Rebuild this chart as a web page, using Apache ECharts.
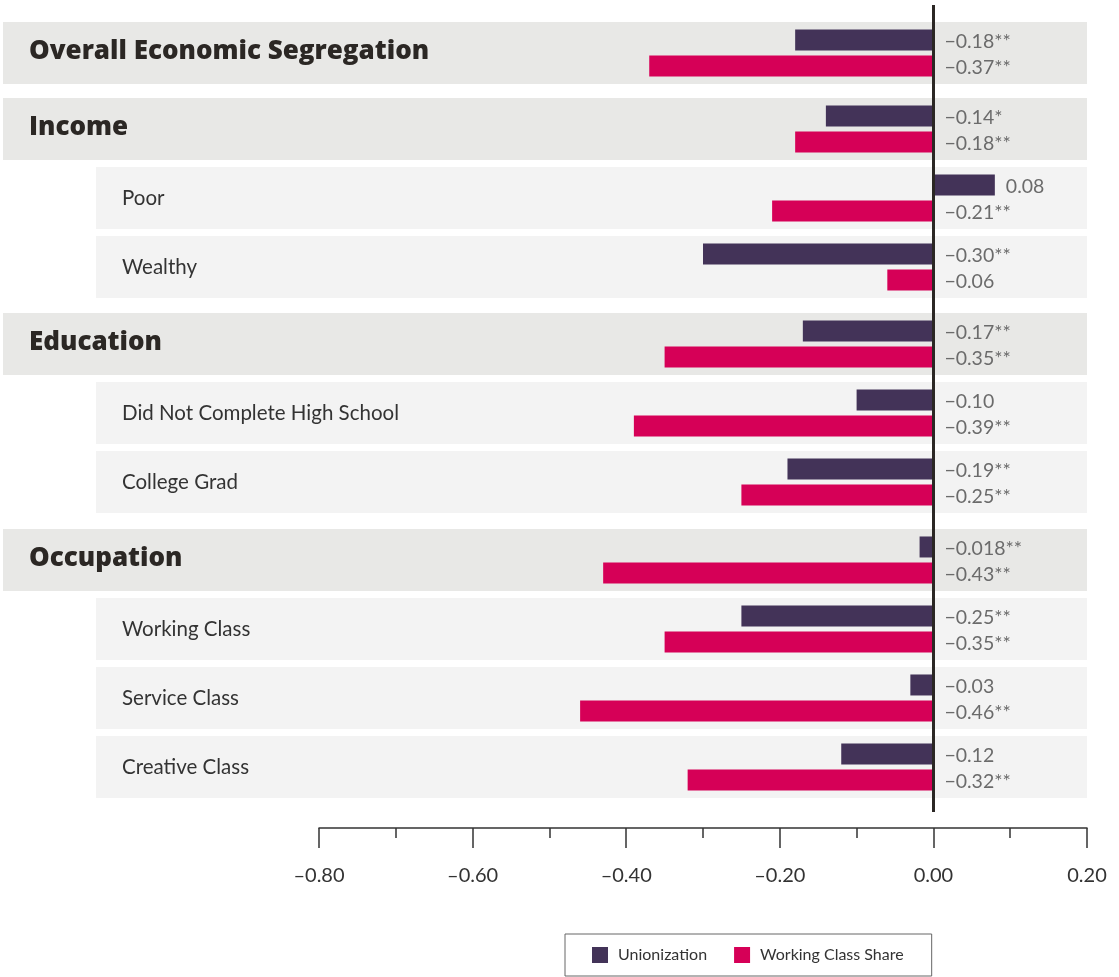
<!DOCTYPE html>
<html>
<head>
<meta charset="utf-8">
<script src="https://cdn.jsdelivr.net/npm/echarts@6/dist/echarts.min.js"></script>
<style>
  html, body { margin: 0; padding: 0; background: #fff; }
  #chart { width: 1119px; height: 977px; }
</style>
</head>
<body>
<div id="chart"></div>
<script>
// rows, top to bottom
const categories = [
  'Overall Economic Segregation',
  'Income', 'Poor', 'Wealthy',
  'Education', 'Did Not Complete High School', 'College Grad',
  'Occupation', 'Working Class', 'Service Class', 'Creative Class'
]
const isHeader = [true, true, false, false, true, false, false, true, false, false, false]
const groupSizes = [1, 3, 3, 4]

const unionization = [-0.18, -0.14, 0.08, -0.30, -0.17, -0.10, -0.19, -0.018, -0.25, -0.03, -0.12]
const workingClass = [-0.37, -0.18, -0.21, -0.06, -0.35, -0.39, -0.25, -0.43, -0.35, -0.46, -0.32]
const unionLabels = ['−0.18**', '−0.14*', '0.08', '−0.30**', '−0.17**', '−0.10', '−0.19**', '−0.018**', '−0.25**', '−0.03', '−0.12']
const workingLabels = ['−0.37**', '−0.18**', '−0.21**', '−0.06', '−0.35**', '−0.39**', '−0.25**', '−0.43**', '−0.35**', '−0.46**', '−0.32**']

const xTicks = [-0.8, -0.6, -0.4, -0.2, 0, 0.2]

const PURPLE = '#433358'
const CRIMSON = '#d60057'
const FONT = 'Lato, "Noto Sans", sans-serif'
const HEAD_FONT = '"Open Sans", Lato, sans-serif'

const chart = echarts.init(document.getElementById('chart'))

const groupTops = [18.5, 94.5, 309.5, 525.5]
const rowStep = 69
const grids = []
const xAxes = []
const yAxes = []
const series = []

let start = 0
groupSizes.forEach((n, g) => {
  const idx = []
  for (let i = 0; i < n; i++) idx.push(start + i)
  grids.push({ left: 319, width: 768, top: groupTops[g], height: n * rowStep })
  xAxes.push({ gridIndex: g, type: 'value', min: xTicks[0], max: xTicks[xTicks.length - 1], show: false })
  yAxes.push({ gridIndex: g, type: 'category', inverse: true, show: false, data: idx.map(i => categories[i]) })

  // row backgrounds + row names
  series.push({
    type: 'custom',
    xAxisIndex: g,
    yAxisIndex: g,
    z: 1,
    silent: true,
    data: idx.map((i, k) => [0, k, i]),
    renderItem: (params, api) => {
      const k = api.value(1)
      const i = api.value(2)
      const y = api.coord([0, k])[1]
      const right = api.coord([xTicks[xTicks.length - 1], k])[0]
      const left = isHeader[i] ? 3 : 96
      const h = 62
      return {
        type: 'group',
        children: [{
          type: 'rect',
          shape: { x: left, y: y - h / 2, width: right - left, height: h },
          style: { fill: isHeader[i] ? '#e8e8e6' : '#f3f3f3' }
        }, {
          type: 'text',
          x: left + 26,
          y: isHeader[i] ? y - 1 : y,
          style: {
            text: categories[i],
            fill: isHeader[i] ? '#2b2724' : '#333',
            font: isHeader[i] ? `800 26px ${HEAD_FONT}` : `400 20.5px ${FONT}`,
            verticalAlign: 'middle'
          }
        }]
      }
    }
  })

  series.push({
    name: 'Unionization',
    type: 'bar',
    xAxisIndex: g,
    yAxisIndex: g,
    z: 3,
    barWidth: 21,
    barGap: '24%',
    itemStyle: { color: PURPLE },
    data: idx.map(i => unionization[i])
  })
  series.push({
    name: 'Working Class Share',
    type: 'bar',
    xAxisIndex: g,
    yAxisIndex: g,
    z: 3,
    barWidth: 21,
    itemStyle: { color: CRIMSON },
    data: idx.map(i => workingClass[i])
  })

  // value labels, right of zero (or of the bar end when positive)
  series.push({
    type: 'custom',
    xAxisIndex: g,
    yAxisIndex: g,
    z: 4,
    silent: true,
    data: idx.map((i, k) => [0, k, i]),
    renderItem: (params, api) => {
      const k = api.value(1)
      const i = api.value(2)
      const y = api.coord([0, k])[1]
      const mk = (v, txt, dy) => ({
        type: 'text',
        x: api.coord([Math.max(0, v), k])[0] + 11,
        y: y + dy,
        style: { text: txt, fill: '#6b6b6b', font: `400 19.5px ${FONT}`, verticalAlign: 'middle' }
      })
      return {
        type: 'group',
        children: [
          mk(unionization[i], unionLabels[i], -11),
          mk(workingClass[i], workingLabels[i], 15)
        ]
      }
    }
  })
  start += n
})

// overall grid for the axis and the zero line
const ag = grids.length
grids.push({ left: 319, width: 768, top: 5, height: 823 })
xAxes.push({
  gridIndex: ag,
  type: 'value',
  min: xTicks[0],
  max: xTicks[xTicks.length - 1],
  interval: 0.2,
  splitLine: { show: false },
  axisLine: { show: true, lineStyle: { color: '#333', width: 1.5 } },
  axisTick: { show: true, length: 20, lineStyle: { color: '#333', width: 1.5 } },
  minorTick: { show: true, splitNumber: 2, length: 10, lineStyle: { color: '#333', width: 1.5 } },
  axisLabel: {
    margin: 38,
    color: '#333',
    fontSize: 20,
    fontFamily: FONT,
    formatter: v => (v < 0 ? '–' : '') + Math.abs(v).toFixed(2)
  }
})
// 0 at the axis line, 1 at the top of the plot
yAxes.push({ gridIndex: ag, type: 'value', min: 0, max: 1, show: false })
series.push({
  type: 'line',
  xAxisIndex: ag,
  yAxisIndex: ag,
  data: [],
  z: 10,
  markLine: {
    silent: true,
    symbol: 'none',
    label: { show: false },
    lineStyle: { color: '#2b2724', width: 3, type: 'solid' },
    data: [[{ xAxis: 0, yAxis: 0.0195 }, { xAxis: 0, yAxis: 1 }]]
  }
})

chart.setOption({
  animation: false,
  backgroundColor: '#fff',
  grid: grids,
  xAxis: xAxes,
  yAxis: yAxes,
  legend: {
    data: ['Unionization', 'Working Class Share'],
    left: 565,
    top: 934,
    padding: [13, 28, 13, 27],
    borderColor: '#666',
    borderWidth: 1,
    itemWidth: 16,
    itemHeight: 16,
    itemGap: 27,
    icon: 'rect',
    textStyle: { color: '#333', fontSize: 16, fontFamily: FONT, padding: [0, 0, 0, 5] }
  },
  series: series
})
</script>
</body>
</html>
